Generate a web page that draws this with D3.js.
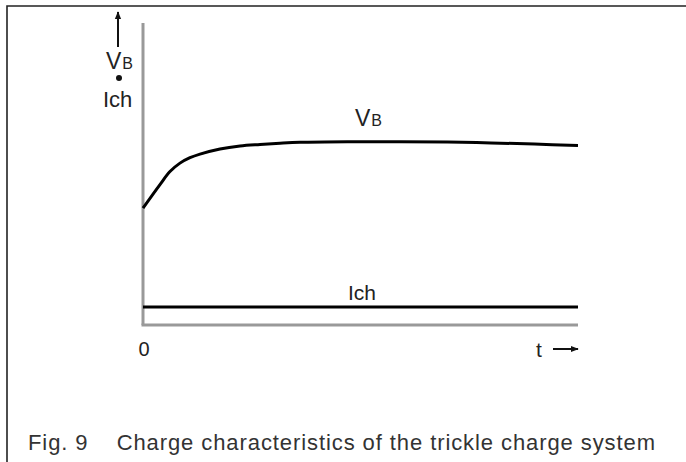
<!DOCTYPE html>
<html>
<head>
<meta charset="utf-8">
<script src="https://cdn.jsdelivr.net/npm/d3@7"></script>
<style>
  body { margin: 0; background: #fff; }
  text { font-family: "Liberation Sans", Arial, sans-serif; fill: #222; }
</style>
</head>
<body>
<script>
// time axis (arbitrary units, 0..100) and relative levels (0..100)
const timeSteps = [0, 3.9, 6.2, 8.5, 10.8, 13.1, 17.7, 22.3, 26.9, 31.5, 36.1, 47, 59, 70, 80, 90, 100];
const vbValues = [38.7, 46.5, 50.8, 53.6, 55.4, 56.6, 58.3, 59.3, 59.8, 60.2, 60.5, 60.7, 60.7, 60.6, 60.3, 59.9, 59.4];
const ichTimes = [0, 100];
const ichValues = [6, 6];

const width = 686, height = 462;

const svg = d3.select("body").append("svg")
  .attr("width", width)
  .attr("height", height);

// outer frame (only top and left edges are visible)
svg.append("path")
  .attr("d", "M7,470 V6 H700")
  .attr("fill", "none")
  .attr("stroke", "#222")
  .attr("stroke-width", 1.6);

var x = d3.scaleLinear().domain([0, 100]).range([143, 578]);
var y = d3.scaleLinear().domain([0, 100]).range([325, 23]);

// axes: plain grey lines
svg.append("line")
  .attr("x1", x(0)).attr("x2", x(0))
  .attr("y1", y(0)).attr("y2", y(100))
  .attr("stroke", "#999").attr("stroke-width", 3);
svg.append("line")
  .attr("x1", x(0) - 1.5).attr("x2", x(100))
  .attr("y1", y(0)).attr("y2", y(0))
  .attr("stroke", "#999").attr("stroke-width", 3);

const line = d3.line()
  .x(d => x(d[0]))
  .y(d => y(d[1]))
  .curve(d3.curveCatmullRom.alpha(0.5));

svg.append("path")
  .datum(timeSteps.map((t, i) => [t, vbValues[i]]))
  .attr("d", line)
  .attr("fill", "none")
  .attr("stroke", "#000")
  .attr("stroke-width", 3);

svg.append("path")
  .datum(ichTimes.map((t, i) => [t, ichValues[i]]))
  .attr("d", line)
  .attr("fill", "none")
  .attr("stroke", "#000")
  .attr("stroke-width", 3);

// arrow marker
svg.append("defs").append("marker")
  .attr("id", "head")
  .attr("viewBox", "0 0 10 10")
  .attr("refX", 9).attr("refY", 5)
  .attr("markerWidth", 4).attr("markerHeight", 4)
  .attr("markerUnits", "strokeWidth")
  .attr("orient", "auto")
  .append("path")
  .attr("d", "M0,1 L10,5 L0,9 Z")
  .attr("fill", "#111");

// y label: arrow, VB, dot, Ich
svg.append("line")
  .attr("x1", 118).attr("x2", 118)
  .attr("y1", 47).attr("y2", 12)
  .attr("stroke", "#111").attr("stroke-width", 2)
  .attr("marker-end", "url(#head)");

function vbLabel(px, py) {
  const t = svg.append("text").attr("x", px).attr("y", py).style("font-size", "23px");
  t.append("tspan").text("V");
  t.append("tspan").style("font-size", "16px").attr("dx", 1).text("B");
}
vbLabel(106, 69);
svg.append("circle").attr("cx", 119).attr("cy", 78).attr("r", 3).attr("fill", "#111");
svg.append("text").attr("x", 103).attr("y", 107).style("font-size", "22px").text("Ich");

// curve labels
vbLabel(355, 126);
svg.append("text").attr("x", 348).attr("y", 300).style("font-size", "21px").text("Ich");

// x labels
svg.append("text").attr("x", x(0) + 1).attr("y", 356)
  .attr("text-anchor", "middle").style("font-size", "20px").text("0");
svg.append("text").attr("x", 536).attr("y", 357).style("font-size", "21px").text("t");
svg.append("line")
  .attr("x1", 553).attr("x2", 578)
  .attr("y1", 349).attr("y2", 349)
  .attr("stroke", "#111").attr("stroke-width", 2)
  .attr("marker-end", "url(#head)");

// caption
svg.append("text")
  .attr("x", 28).attr("y", 450)
  .attr("textLength", 627)
  .attr("lengthAdjust", "spacing")
  .style("font-size", "22px")
  .style("fill", "#333")
  .attr("xml:space", "preserve")
  .text("Fig. 9    Charge characteristics of the trickle charge system");
</script>
</body>
</html>
